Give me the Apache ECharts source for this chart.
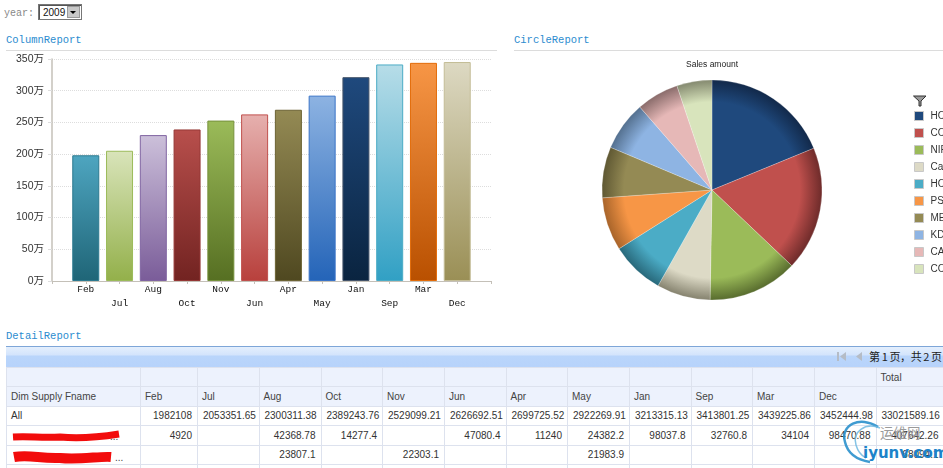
<!DOCTYPE html>
<html>
<head>
<meta charset="utf-8">
<title>Report</title>
<script src="https://cdn.jsdelivr.net/npm/echarts@6/dist/echarts.min.js"></script>
<style>
html, body { margin: 0; padding: 0; width: 943px; height: 468px; overflow: hidden; background: #fff; font-family: "Liberation Sans", Arial, sans-serif; }
.abs { position: absolute; }
.title { position: absolute; font: 10.5px/14px "Liberation Mono", monospace; color: #2b8ccf; }
.rule { position: absolute; height: 1px; background: #dcdcdc; }
#toolbar { position: absolute; left: 6px; top: 346px; width: 937px; height: 20px; border-top: 1px solid #7ea6d8; background: linear-gradient(#e4effd, #d3e4fc 40%, #b9d5fb 45%, #b7d3fb); }
#pager { position: absolute; left: 869px; top: 347px; font: 11px/18px "Noto Sans CJK SC", sans-serif; letter-spacing: -0.4px; color: #222; white-space: nowrap; }
table { position: absolute; left: 6px; top: 367px; border-collapse: collapse; table-layout: fixed; width: 937px; font: 10px "Liberation Sans", Arial, sans-serif; color: #333; }
td { border: 1px solid #dde2ee; padding: 0 5px; height: 18.4px; text-align: right; white-space: nowrap; overflow: hidden; }
tr.head td { background: #edf2fd; text-align: left; color: #444; padding-left: 4px; }
td.first { text-align: left; padding-left: 4px; }
</style>
</head>
<body>
<div class="abs" style="left:4px;top:7px;font:10px/14px 'Liberation Mono',monospace;color:#888">year:</div>
<div class="abs" style="left:38px;top:4px;width:38px;height:14px;border:1px solid #777;box-shadow:inset 1px 1px 0 #555;font:10px/15px 'Liberation Sans',sans-serif;color:#111;padding-left:4px">2009
  <div class="abs" style="right:1px;top:1px;width:13px;height:12px;background:#c8c8c8;border:1px solid #999;box-sizing:border-box"></div>
  <div class="abs" style="right:5px;top:6px;width:0;height:0;border:3px solid transparent;border-top:3px solid #000"></div>
</div>

<div class="title" style="left:6px;top:33px">ColumnReport</div>
<div class="rule" style="left:6px;top:50px;width:491px"></div>
<div class="title" style="left:514px;top:33px">CircleReport</div>
<div class="rule" style="left:514px;top:50px;width:429px"></div>
<div class="title" style="left:6px;top:329px">DetailReport</div>

<div id="columnChart" class="abs" style="left:0;top:0;width:500px;height:325px"></div>
<div id="circleChart" class="abs" style="left:500px;top:52px;width:443px;height:270px"></div>

<svg class="abs" style="left:913px;top:95px" width="14" height="12" viewBox="0 0 14 12">
  <path d="M0.5 1 L13 1 L8 6 L8 11 L6 11 L6 6 Z" fill="#999" stroke="#333" stroke-width="1"/>
</svg>

<div id="toolbar"></div>
<svg class="abs" style="left:836px;top:350px" width="32" height="14" viewBox="0 0 32 14">
  <rect x="1" y="2" width="2" height="9" fill="#b5bcc6"/>
  <path d="M10 2 L10 11 L4 6.5 Z" fill="#b5bcc6"/>
  <path d="M26 2 L26 11 L20 6.5 Z" fill="#b5bcc6"/>
</svg>
<div id="pager">第 1 页，共 2 页</div>

<table id="detail"></table>

<!-- 涂抹部分 -->
<svg class="abs" style="left:0;top:424px" width="140" height="44" viewBox="0 0 140 44">
  <path d="M13 13 C30 12 40 14 60 13 C80 15 100 13 119 10" fill="none" stroke="#f20c0c" stroke-width="7"/>
  <path d="M14 33 C30 30 40 35 60 34 C80 36 100 32 111 33" fill="none" stroke="#f20c0c" stroke-width="10"/>
  <text x="110" y="16" font-size="10" fill="#444" font-family="Liberation Sans">...</text>
  <text x="115" y="37" font-size="10" fill="#444" font-family="Liberation Sans">...</text>
</svg>

<!-- 水印 -->
<svg class="abs" style="left:830px;top:410px" width="113" height="58" viewBox="0 0 113 58">
  <path d="M48 17 C30 5 10 15 15 32 C18 45 28 50 40 52" fill="none" stroke="#2a90cc" stroke-width="2.5" opacity="0.9"/>
  <path d="M50 18 C35 12 22 22 26 35 C28 42 32 46 36 48" fill="none" stroke="#6fb8e0" stroke-width="1.5" opacity="0.85"/>
  <text x="50" y="28" font-size="13.5" fill="#9a9a9a" font-family="Noto Sans CJK SC">运维网</text>
  <text x="33" y="48" font-size="15" font-weight="bold" fill="#1c83c9" font-family="DejaVu Sans">iyunv.com</text>
</svg>

<script>
// 月度销售额
var columnData = [
	{ name: 'Feb', value: 1982108, top: '#4ea5c0', bottom: '#1f6577', border: '#2c7a90' },
	{ name: 'Jul', value: 2053351.65, top: '#d9e4ba', bottom: '#93b04a', border: '#9bbb59' },
	{ name: 'Aug', value: 2300311.38, top: '#ccc0da', bottom: '#7a5c99', border: '#8064a2' },
	{ name: 'Oct', value: 2389243.76, top: '#b84f4c', bottom: '#722321', border: '#953735' },
	{ name: 'Nov', value: 2529099.21, top: '#9bbb59', bottom: '#566f22', border: '#76923c' },
	{ name: 'Jun', value: 2626692.51, top: '#e6b0ae', bottom: '#b8403c', border: '#c0504d' },
	{ name: 'Apr', value: 2699725.52, top: '#948a54', bottom: '#4f4820', border: '#6c6334' },
	{ name: 'May', value: 2922269.91, top: '#8db3e2', bottom: '#2464b8', border: '#3a74c8' },
	{ name: 'Jan', value: 3213315.13, top: '#1f497d', bottom: '#0a2440', border: '#44546a' },
	{ name: 'Sep', value: 3413801.25, top: '#b7dde8', bottom: '#31a0c4', border: '#4bacc6' },
	{ name: 'Mar', value: 3439225.86, top: '#f79646', bottom: '#b95000', border: '#e36c09' },
	{ name: 'Dec', value: 3452444.98, top: '#ddd9c3', bottom: '#9a8f55', border: '#c4bd97' }
];

// 扇区名称被窗口截断，尾部空格只用来区分重名
var circleData = [
	{ name: 'HO', value: 6210000, color: '#1f497d', rim: '#12294a' },
	{ name: 'CO', value: 6036000, color: '#c0504d', rim: '#6e2b2a' },
	{ name: 'NIF', value: 4357000, color: '#9bbb59', rim: '#586c2e' },
	{ name: 'Car', value: 2605000, color: '#dddac6', rim: '#85826e' },
	{ name: 'HO ', value: 2596000, color: '#4bacc6', rim: '#28687a' },
	{ name: 'PSS', value: 2587000, color: '#f79646', rim: '#a8642a' },
	{ name: 'ME', value: 2467000, color: '#948a54', rim: '#5f5833' },
	{ name: 'KDI', value: 2403000, color: '#8eb4e3', rim: '#54708f' },
	{ name: 'CAI', value: 2055000, color: '#e6b8b7', rim: '#8a6c6b' },
	{ name: 'CO ', value: 1706000, color: '#d8e4bc', rim: '#84896f' }
];

var detailHead = ['Dim Supply Fname', 'Feb', 'Jul', 'Aug', 'Oct', 'Nov', 'Jun', 'Apr', 'May', 'Jan', 'Sep', 'Mar', 'Dec', ''];
var detailRows = [
	['All', '1982108', '2053351.65', '2300311.38', '2389243.76', '2529099.21', '2626692.51', '2699725.52', '2922269.91', '3213315.13', '3413801.25', '3439225.86', '3452444.98', '33021589.16'],
	['', '4920', '', '42368.78', '14277.4', '', '47080.4', '11240', '24382.2', '98037.8', '32760.8', '34104', '98470.88', '407642.26'],
	['', '', '', '23807.1', '', '22303.1', '', '', '21983.9', '', '', '', '', '68094.1'],
	['', '', '', '', '', '', '', '', '', '', '', '', '', '']
];
var detailWidths = [134, 57, 61.5, 62, 61.5, 62, 61.5, 61.5, 62, 61.5, 61.5, 62, 61.5, 68];

// 绘制明细表
function loadTable() {
	var html = '<colgroup>';
	detailWidths.forEach(function (w) { html += '<col style="width:' + w + 'px">'; });
	html += '</colgroup><tr class="head">';
	detailHead.forEach(function (h, i) { html += '<td>' + (i === 13 ? 'Total' : '') + '</td>'; });
	html += '</tr><tr class="head">';
	detailHead.forEach(function (h) { html += '<td>' + h + '</td>'; });
	html += '</tr>';
	detailRows.forEach(function (row) {
		html += '<tr>';
		row.forEach(function (c, i) { html += '<td' + (i === 0 ? ' class="first"' : '') + '>' + c + '</td>'; });
		html += '</tr>';
	});
	document.getElementById('detail').innerHTML = html;
}

// 载入柱状图
function loadColumnChart() {
	var myChart = echarts.init(document.getElementById('columnChart'));
	myChart.setOption({
		animation: false,
		grid: { left: 52, top: 59, width: 439, height: 222 },
		xAxis: {
			type: 'category',
			boundaryGap: false,
			data: [''].concat(columnData.map(function (d) { return d.name; }), ['']),
			axisLine: { lineStyle: { color: '#c4c0b8' } },
			axisTick: { lineStyle: { color: '#c4c0b8' }, length: 3 },
			axisLabel: {
				interval: 0,
				hideOverlap: false,
				margin: 1,
				fontFamily: 'Liberation Mono',
				fontSize: 9.5,
				lineHeight: 14,
				color: '#111',
				formatter: function (v, i) { return i % 2 === 1 ? v : '\n' + v; }
			}
		},
		yAxis: {
			type: 'value',
			min: 0,
			max: 3500000,
			interval: 500000,
			axisLine: { show: true, lineStyle: { color: '#c4c0b8', width: 1.5 } },
			axisTick: { show: true, length: 4, lineStyle: { color: '#ddd' } },
			splitLine: { lineStyle: { color: '#ddd', type: 'dotted' } },
			axisLabel: {
				margin: 8,
				fontFamily: 'Liberation Sans, Noto Sans CJK SC',
				fontSize: 10.5,
				color: '#333',
				formatter: function (v) { return (v / 10000) + '万'; }
			}
		},
		series: [{
			type: 'bar',
			barWidth: 27,
			data: [null].concat(columnData.map(function (d) {
				return {
					value: d.value,
					itemStyle: {
						borderColor: d.border,
						borderWidth: 1,
						color: new echarts.graphic.LinearGradient(0, 0, 0, 1, [
							{ offset: 0, color: d.top },
							{ offset: 1, color: d.bottom }
						])
					}
				};
			}), [null])
		}]
	});
}

// 载入饼图
function loadCircleChart() {
	var cx = 212, cy = 138, r = 110;
	var myChart = echarts.init(document.getElementById('circleChart'));
	myChart.setOption({
		animation: false,
		title: {
			text: 'Sales amount',
			left: 212,
			top: 8,
			padding: 0,
			textAlign: 'center',
			textStyle: { fontSize: 8.5, fontWeight: 'normal', color: '#222', fontFamily: 'Liberation Sans' }
		},
		legend: {
			orient: 'vertical',
			left: 414,
			top: 59,
			padding: 0,
			itemWidth: 9,
			itemHeight: 9,
			itemGap: 7,
			selectedMode: false,
			icon: 'rect',
			data: circleData.map(function (d) {
				return { name: d.name, itemStyle: { color: d.color, borderColor: '#c8c8c8', borderWidth: 1 } };
			}),
			textStyle: { fontSize: 10, color: '#333', fontFamily: 'Liberation Sans', padding: [0, 0, 0, 2] }
		},
		series: [{
			type: 'pie',
			center: [cx, cy],
			radius: [0, r],
			startAngle: 90,
			clockwise: true,
			label: { show: false },
			labelLine: { show: false },
			data: circleData.map(function (d) {
				return {
					name: d.name,
					value: d.value,
					itemStyle: {
						borderColor: 'rgba(255,255,255,0.45)',
						borderWidth: 0.5,
						color: {
							type: 'radial',
							x: cx, y: cy, r: r,
							global: true,
							colorStops: [
								{ offset: 0, color: d.color },
								{ offset: 0.8, color: d.color },
								{ offset: 1, color: d.rim }
							]
						}
					}
				};
			})
		}]
	});
}

loadTable();
loadColumnChart();
loadCircleChart();
</script>
</body>
</html>
